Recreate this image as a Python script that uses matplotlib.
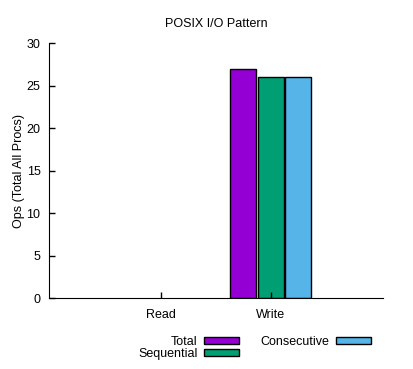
import numpy as np
import matplotlib.pyplot as plt

plt.rcParams['font.family'] = ['Liberation Sans', 'DejaVu Sans']
plt.rcParams['font.size'] = 9

categories = ["Read", "Write"]
series = ["Total", "Sequential", "Consecutive"]
total = [0, 27]
sequential = [0, 26]
consecutive = [0, 26]
colors = ["#9400D3", "#009E73", "#56B4E9"]

fig = plt.figure(figsize=(4.14, 3.69), dpi=100)
ax = fig.add_axes([0.118, 0.192, 0.807, 0.691])

x = np.arange(len(categories))
w = 0.235
offsets = [-0.25, 0, 0.25]
handles = []
for vals, off, c, name in zip([total, sequential, consecutive], offsets, colors, series):
    lws = [1 if v > 0 else 0 for v in vals]
    b = ax.bar(x + off, vals, width=w, color=c, edgecolor="black", linewidth=lws, label=name)
    handles.append(b)

ax.set_xlim(-1.02, 2.02)
ax.set_ylim(0, 30)
ax.set_yticks(range(0, 31, 5))
ax.set_xticks(x)
ax.set_xticklabels(categories)
ax.tick_params(direction="in", length=4, width=1, pad=6)
ax.tick_params(axis="x", pad=8)
for s in ["top", "right"]:
    ax.spines[s].set_visible(False)
ax.set_ylabel("Ops (Total All Procs)", labelpad=1)
ax.set_title("POSIX I/O Pattern", fontsize=9, pad=12)

leg = fig.legend(handles=handles, labels=series, ncol=2, markerfirst=False, frameon=False,
                 loc="center", bbox_to_anchor=(0.615, 0.057), handlelength=2.8,
                 handleheight=0.5, handletextpad=0.55, columnspacing=1.7, labelspacing=0.0)
for p in leg.get_patches():
    p.set_linewidth(1)

fig.savefig("out.png", dpi=100)
